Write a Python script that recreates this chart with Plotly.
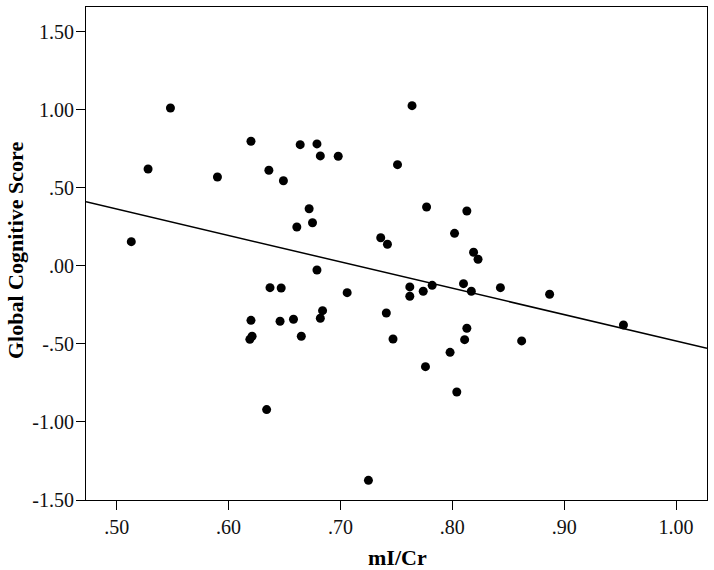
import numpy as np
import plotly.graph_objects as go

# mI/Cr ratio vs global cognitive score
mi_cr = [
    0.548, 0.528, 0.513, 0.590, 0.620, 0.636, 0.649, 0.664, 0.679, 0.682,
    0.698, 0.672, 0.675, 0.661, 0.736, 0.742, 0.679, 0.637, 0.647, 0.706,
    0.764, 0.751, 0.777, 0.813, 0.802, 0.819, 0.823, 0.762, 0.762, 0.774,
    0.782, 0.810, 0.817, 0.843, 0.887, 0.953, 0.741, 0.747, 0.813, 0.811,
    0.862, 0.798, 0.776, 0.804, 0.620, 0.646, 0.658, 0.684, 0.682, 0.621,
    0.619, 0.665, 0.634, 0.725,
]
score = [
    1.011, 0.620, 0.155, 0.569, 0.798, 0.612, 0.545, 0.776, 0.781, 0.704,
    0.702, 0.366, 0.276, 0.249, 0.180, 0.138, -0.027, -0.140, -0.142, -0.172,
    1.026, 0.648, 0.377, 0.351, 0.208, 0.087, 0.042, -0.135, -0.195, -0.163,
    -0.125, -0.114, -0.163, -0.140, -0.182, -0.379, -0.302, -0.469, -0.400, -0.473,
    -0.481, -0.554, -0.646, -0.808, -0.349, -0.355, -0.342, -0.287, -0.336, -0.451,
    -0.471, -0.451, -0.921, -1.374,
]

x_ticks = [0.5, 0.6, 0.7, 0.8, 0.9, 1.0]
x_labels = [".50", ".60", ".70", ".80", ".90", "1.00"]
y_ticks = [1.5, 1.0, 0.5, 0.0, -0.5, -1.0, -1.5]
y_labels = ["1.50", "1.00", ".50", ".00", "-.50", "-1.00", "-1.50"]

X_RANGE = [0.4725, 1.0277]
Y_RANGE = [-1.5, 1.658]

# least-squares fit line across the full x range
slope, intercept = np.polyfit(mi_cr, score, 1)
line_x = np.array(X_RANGE)
line_y = intercept + slope * line_x

FONT = "Liberation Serif, Times New Roman, serif"
W, H = 714, 570
ML, MR, MT, MB = 86, 7, 7, 70
plot_w, plot_h = W - ML - MR, H - MT - MB

fig = go.Figure()
fig.add_trace(go.Scatter(
    x=line_x, y=line_y, mode="lines",
    line=dict(color="black", width=1.5),
    hoverinfo="skip", showlegend=False,
))
fig.add_trace(go.Scatter(
    x=mi_cr, y=score, mode="markers",
    marker=dict(color="black", size=9),
    showlegend=False,
))

axis_common = dict(
    showgrid=False, zeroline=False, automargin=False,
    showline=True, linecolor="black", linewidth=1.2, mirror=True,
    ticks="outside", ticklen=9, tickcolor="black", tickwidth=1.2,
    tickfont=dict(family=FONT, size=20, color="#111"),
)

fig.update_layout(
    width=W, height=H,
    margin=dict(l=ML, r=MR, t=MT, b=MB),
    paper_bgcolor="white", plot_bgcolor="white",
    font=dict(family=FONT, color="black"),
    xaxis=dict(range=X_RANGE, tickvals=x_ticks, ticktext=x_labels, **axis_common),
    yaxis=dict(range=Y_RANGE, tickvals=y_ticks, ticktext=y_labels,
               ticklabelstandoff=-2, **axis_common),
    annotations=[
        # axis titles, positioned in pixels relative to the plot area
        dict(text="<b>mI/Cr</b>", x=(397 - ML) / plot_w, y=(H - MB - 557) / plot_h,
             xref="paper", yref="paper", xanchor="center", yanchor="middle",
             showarrow=False, font=dict(family=FONT, size=22)),
        dict(text="<b>Global Cognitive Score</b>", x=(15 - ML) / plot_w,
             y=(H - MB - 251) / plot_h, xref="paper", yref="paper",
             xanchor="center", yanchor="middle", textangle=-90,
             showarrow=False, font=dict(family=FONT, size=22)),
    ],
)

# drop the browser's default body margin so the figure sits at the page corner
fig.write_html("out.html", config={"displayModeBar": False},
               post_script="document.body.style.margin='0';")
